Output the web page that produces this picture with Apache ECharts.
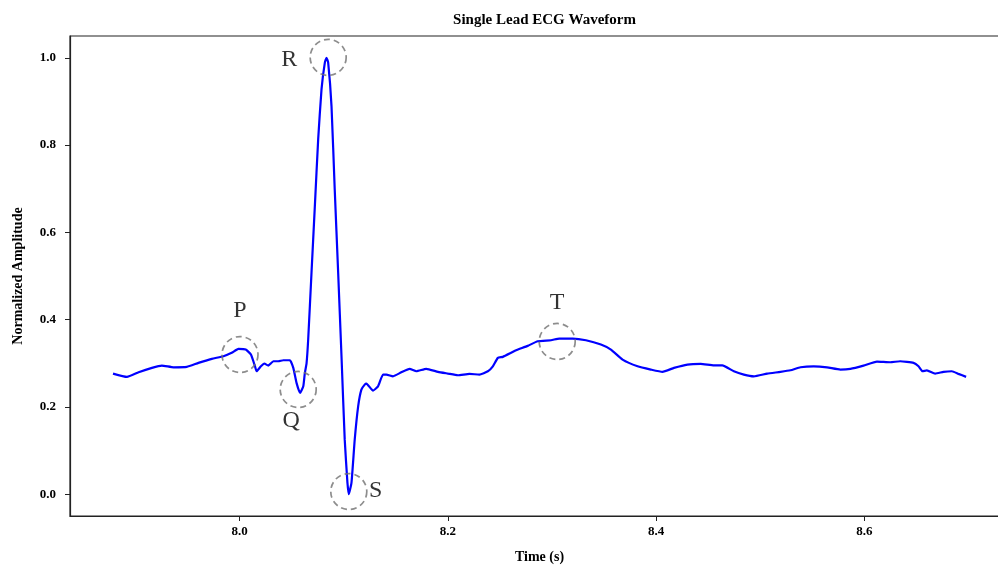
<!DOCTYPE html>
<html>
<head>
<meta charset="utf-8">
<script src="https://cdn.jsdelivr.net/npm/echarts@6/dist/echarts.min.js"></script>
<style>html,body{margin:0;padding:0;background:#fff;}#c{width:998px;height:570px;}</style>
</head>
<body>
<div id="c"></div>
<script>
// ECG trace (time in s, normalized amplitude)
const timeS = [7.8783,7.8917,7.9029,7.9157,7.9252,7.9365,7.9492,7.9604,7.9732,7.9844,7.9923,7.9988,8.0058,8.0108,8.0147,8.0163,8.0204,8.0237,8.0275,8.0323,8.0371,8.0419,8.0482,8.0515,8.0546,8.0580,8.0611,8.0626,8.0642,8.0658,8.0690,8.0722,8.0754,8.0786,8.0818,8.0834,8.0850,8.0882,8.0913,8.0946,8.0978,8.1009,8.1035,8.1048,8.1074,8.1105,8.1138,8.1169,8.1201,8.1217,8.1281,8.1329,8.1377,8.1409,8.1473,8.1553,8.1632,8.1697,8.1792,8.1905,8.2000,8.2096,8.2207,8.2303,8.2384,8.2432,8.2480,8.2528,8.2607,8.2655,8.2767,8.2863,8.2991,8.3070,8.3199,8.3326,8.3470,8.3566,8.3678,8.3822,8.3949,8.4061,8.4172,8.4301,8.4428,8.4556,8.4636,8.4747,8.4843,8.4939,8.5067,8.5195,8.5291,8.5387,8.5514,8.5643,8.5770,8.5866,8.5993,8.6122,8.6249,8.6345,8.6473,8.6521,8.6559,8.6601,8.6681,8.6761,8.6841,8.6904,8.6978];
const amplitude = [0.2764,0.2688,0.2794,0.2894,0.2947,0.2908,0.2917,0.3009,0.3101,0.3161,0.3239,0.3330,0.3314,0.3200,0.2931,0.2817,0.2931,0.2993,0.2947,0.3046,0.3046,0.3069,0.3069,0.2894,0.2550,0.2321,0.2472,0.2780,0.2990,0.3544,0.5080,0.6601,0.8131,0.9278,0.9890,1.0000,0.9890,0.8894,0.6984,0.5073,0.3161,0.1250,0.0264,0.0000,0.0264,0.1250,0.2014,0.2397,0.2511,0.2534,0.2374,0.2472,0.2741,0.2741,0.2702,0.2794,0.2872,0.2817,0.2872,0.2803,0.2764,0.2725,0.2757,0.2741,0.2817,0.2931,0.3124,0.3147,0.3239,0.3298,0.3399,0.3505,0.3528,0.3567,0.3567,0.3528,0.3429,0.3314,0.3085,0.2931,0.2856,0.2803,0.2894,0.2970,0.2986,0.2954,0.2954,0.2817,0.2741,0.2702,0.2764,0.2803,0.2839,0.2908,0.2931,0.2908,0.2856,0.2872,0.2947,0.3039,0.3023,0.3046,0.3009,0.2931,0.2817,0.2839,0.2764,0.2803,0.2817,0.2757,0.2688];

// Annotated waves
const waveNames = ['P','Q','R','S','T'];
const waveTimes = [8.0003, 8.0562, 8.0850, 8.1048, 8.3050];
const waveAmps  = [0.320, 0.240, 1.001, 0.006, 0.350];

// Axis ticks
const xTicks = [8.0, 8.2, 8.4, 8.6];
const yTicks = [0.0, 0.2, 0.4, 0.6, 0.8, 1.0];

// label offsets (pixels) relative to each circle
const labelOffsets = [[0,-44],[-7,31],[-39,2],[27,-1],[0,-39]];

const serif = '"Liberation Serif","DejaVu Serif",serif';
const chart = echarts.init(document.getElementById('c'), null, {renderer:'canvas'});
chart.setOption({
  animation: false,
  backgroundColor: '#fff',
  title: {
    text: 'Single Lead ECG Waveform',
    left: 539.5, top: 8, textAlign: 'center',
    textStyle: {fontFamily: serif, fontWeight: 'bold', fontSize: 15, color: '#000'}
  },
  grid: {left: 70, top: 36, width: 939, height: 480, outerBoundsMode: 'none', containLabel: false,
         show: true, borderColor: '#222', borderWidth: 1.2, backgroundColor: 'transparent'},
  xAxis: {
    type: 'value', min: 7.837, max: 8.739,
    name: 'Time (s)', nameLocation: 'middle', nameGap: 34,
    nameTextStyle: {fontFamily: serif, fontWeight: 'bold', fontSize: 14, color: '#000'},
    axisLine: {show: true, onZero: false, lineStyle: {color: '#222', width: 1.2}},
    axisTick: {show: true, length: 5, customValues: xTicks, lineStyle: {color: '#222'}},
    axisLabel: {customValues: xTicks, margin: 9, fontFamily: serif, fontWeight: 'bold', fontSize: 13, color: '#000', formatter: v => v.toFixed(1)},
    splitLine: {show: false}
  },
  yAxis: {
    type: 'value', min: -0.05, max: 1.05,
    name: 'Normalized Amplitude', nameLocation: 'middle', nameGap: 45, nameRotate: 90,
    nameTextStyle: {fontFamily: serif, fontWeight: 'bold', fontSize: 14, color: '#000'},
    axisLine: {show: true, onZero: false, lineStyle: {color: '#222', width: 1.2}},
    axisTick: {show: true, length: 5, customValues: yTicks, lineStyle: {color: '#222'}},
    axisLabel: {customValues: yTicks, margin: 14, fontFamily: serif, fontWeight: 'bold', fontSize: 13, color: '#000', formatter: v => v.toFixed(1)},
    splitLine: {show: false}
  },
  series: [
    {
      type: 'line', data: timeS.map((t,i)=>[t, amplitude[i]]),
      smooth: 0.15, symbol: 'none', lineStyle: {color: '#0000ff', width: 2.2}, z: 2
    },
    {
      type: 'scatter', z: 3,
      data: waveTimes.map((t,i)=>({value:[t, waveAmps[i]], name: waveNames[i],
        label: {show: true, formatter: waveNames[i], offset: labelOffsets[i]}})),
      symbol: 'circle', symbolSize: 36,
      itemStyle: {color: 'rgba(0,0,0,0)', borderColor: '#707070', borderWidth: 1.7, borderType: [6,4]},
      label: {position: 'inside', fontFamily: serif, fontSize: 24, color: '#000'}
    }
  ]
});
</script>
</body>
</html>
